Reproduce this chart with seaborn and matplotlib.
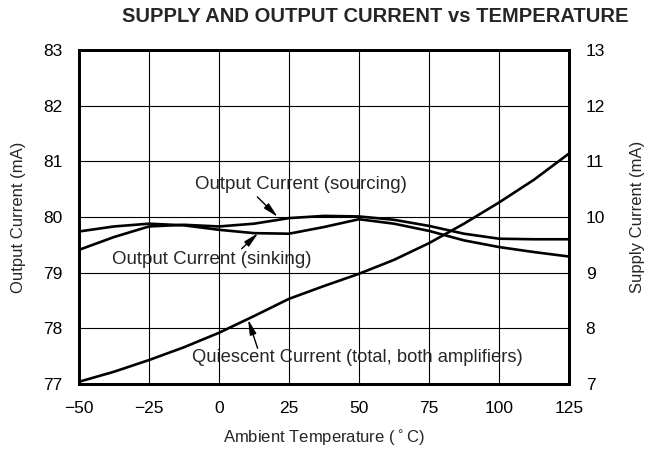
import matplotlib
matplotlib.use("Agg")
import matplotlib.pyplot as plt
import seaborn as sns
import pandas as pd

# values
temperature = [-50, -37.5, -25, -12.5, 0, 12.5, 25, 37.5, 50, 62.5, 75, 87.5, 100, 112.5, 125]
sourcing_ma = [79.41, 79.64, 79.83, 79.86, 79.83, 79.88, 79.98, 80.02, 80.01, 79.95, 79.84, 79.70, 79.61, 79.60, 79.60]
sinking_ma = [79.74, 79.83, 79.88, 79.85, 79.77, 79.71, 79.70, 79.82, 79.96, 79.88, 79.75, 79.58, 79.46, 79.37, 79.29]
quiescent_ma = [7.04, 7.22, 7.43, 7.66, 7.92, 8.22, 8.53, 8.76, 8.98, 9.23, 9.53, 9.88, 10.26, 10.67, 11.14]

x_ticks = [-50, -25, 0, 25, 50, 75, 100, 125]
x_labels = ["\u221250", "\u221225", "0", "25", "50", "75", "100", "125"]
left_ticks = [77, 78, 79, 80, 81, 82, 83]
right_ticks = [7, 8, 9, 10, 11, 12, 13]

sns.set_style("white")
plt.rcParams["font.family"] = ["Liberation Sans", "DejaVu Sans"]

df = pd.DataFrame({"temp": temperature, "sourcing": sourcing_ma,
                   "sinking": sinking_ma, "quiescent": quiescent_ma})

fig = plt.figure(figsize=(6.55, 4.49), dpi=100)
ax = fig.add_axes([0.1206, 0.1448, 0.7481, 0.7438])
ax2 = ax.twinx()

line_kw = dict(color="black", linewidth=1.9)
sns.lineplot(data=df, x="temp", y="sourcing", ax=ax, **line_kw)
sns.lineplot(data=df, x="temp", y="sinking", ax=ax, **line_kw)
sns.lineplot(data=df, x="temp", y="quiescent", ax=ax2, **line_kw)

ax.set_xlim(-50, 125)
ax.set_ylim(77, 83)
ax2.set_ylim(7, 13)
ax.set_xticks(x_ticks)
ax.set_xticklabels(x_labels)
ax.set_yticks(left_ticks)
ax2.set_yticks(right_ticks)

ax.grid(True, color="black", linewidth=0.8)
ax.set_axisbelow(True)
for a in (ax, ax2):
    for s in a.spines.values():
        s.set_linewidth(2)
        s.set_color("black")
    a.tick_params(length=0, labelsize=12.5, pad=12, colors="black")

ax.set_xlabel("Ambient Temperature ($^\\circ$C)", fontsize=12, labelpad=9)
ax.set_ylabel("Output Current (mA)", fontsize=12, labelpad=12)
ax2.set_ylabel("Supply Current (mA)", fontsize=12, labelpad=18)

fig.suptitle("SUPPLY AND OUTPUT CURRENT vs TEMPERATURE", x=0.573, y=0.985,
             fontsize=14.5, fontweight="bold")

arrow = dict(arrowstyle="-|>,head_length=0.9,head_width=0.2", color="black",
             linewidth=1, shrinkA=0, shrinkB=0)
ax.text(29.2, 80.58, "Output Current (sourcing)", ha="center", va="center", fontsize=13.5)
ax.annotate("", xy=(21, 80.0), xytext=(13.7, 80.36), arrowprops=arrow)
ax.text(-2.7, 79.23, "Output Current (sinking)", ha="center", va="center", fontsize=13.5)
ax.annotate("", xy=(14, 79.71), xytext=(8.1, 79.43), arrowprops=arrow)
ax2.text(49.5, 7.47, "Quiescent Current (total, both amplifiers)",
         ha="center", va="center", fontsize=13.2)
ax2.annotate("", xy=(10.4, 8.16), xytext=(13.8, 7.64), arrowprops=arrow)

fig.savefig("out.png", dpi=100)
